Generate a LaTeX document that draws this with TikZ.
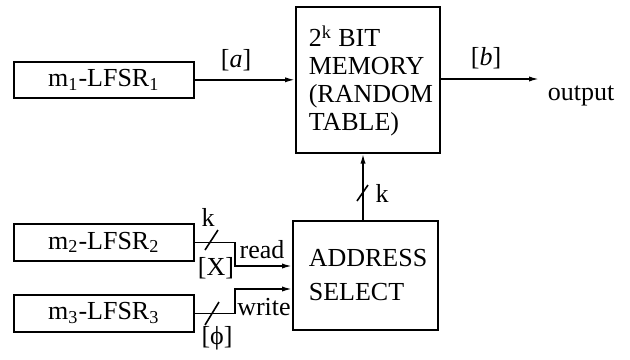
\documentclass[tikz,border=0pt]{standalone}
\usepackage{fontspec}
\setmainfont{Liberation Serif}
\usetikzlibrary{arrows.meta}
\begin{document}
\begin{tikzpicture}[x=0.5pt,y=-0.5pt, line width=0.8pt,
  box/.style={draw, line width=0.8pt, inner sep=0pt, anchor=north west, font=\fontsize{13}{14}\selectfont},
  lbl/.style={inner sep=0pt, font=\fontsize{13}{14}\selectfont},
  arr/.style={-{Latex[length=5pt,width=2.6pt]}}]
\useasboundingbox (0,0) rectangle (630,359);
% boxes
\node[box, minimum width=90pt, minimum height=18pt] (m1) at (13,61) {m\textsubscript{1}-LFSR\textsubscript{1}};
\node[box, minimum width=90pt, minimum height=18.5pt] (m2) at (13,223) {m\textsubscript{2}-LFSR\textsubscript{2}};
\node[box, minimum width=90pt, minimum height=18.5pt] (m3) at (13,294) {m\textsubscript{3}-LFSR\textsubscript{3}};
\node[box, minimum width=72pt, minimum height=73pt] (mem) at (295,6) {};
\node[lbl, anchor=west, align=left] (memt) at (308,81) {2\textsuperscript{k} BIT\\MEMORY\\(RANDOM\\TABLE)};
\node[box, minimum width=72.5pt, minimum height=54.5pt] (addr) at (292,220) {};
\node[lbl, anchor=west, align=left, font=\fontsize{13}{17}\selectfont] (addrt) at (308,275) {ADDRESS\\SELECT};
% top row
\draw[arr] (m1.east) -- (m1.east -| mem.west);
\node[lbl] (la) at (236,60) {[\textit{a}]};
\coordinate (out) at (539,79);
\draw[arr] (mem.east |- out) -- (out);
\node[lbl] (lb) at (486,58) {[\textit{b}]};
\node[lbl, anchor=base west] (outt) at (547,100) {output};
% address to memory
\coordinate (up) at (363,0);
\draw[arr] (addr.north -| up) -- (mem.south -| up);
\draw (357,201) -- (368,185);
\node[lbl] (lk2) at (382,193) {k};
% read path
\coordinate (r1) at (235,266);
\draw[arr] (m2.east) -| (r1) -- (r1 -| addr.west);
\draw (205,250) -- (218,230);
\node[lbl] (lk1) at (208,217) {k};
\node[lbl] (lx) at (216,268) {[X]};
\node[lbl] (lr) at (262,250) {read};
% write path
\coordinate (w1) at (235,289);
\draw[arr] (m3.east) -| (w1) -- (w1 -| addr.west);
\draw (205,325) -- (219,302);
\node[lbl] (lp) at (217,338) {[ϕ]};
\node[lbl] (lw) at (264,307) {write};
\end{tikzpicture}
\end{document}
